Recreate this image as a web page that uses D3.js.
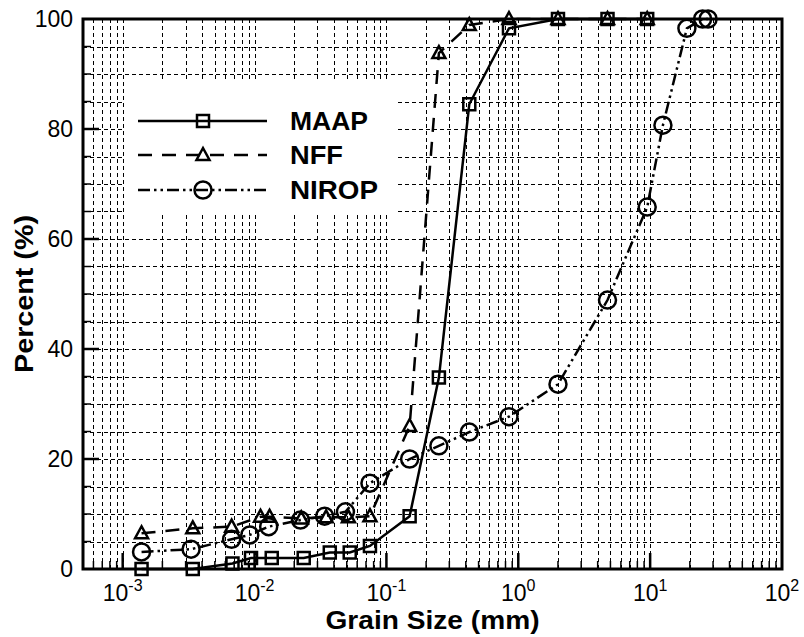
<!DOCTYPE html>
<html>
<head>
<meta charset="utf-8">
<script src="https://cdn.jsdelivr.net/npm/d3@7"></script>
<style>
  body { margin: 0; background: #fff; }
  text { font-family: "Liberation Sans", Arial, sans-serif; fill: #000; }
</style>
</head>
<body>
<div id="chart"></div>
<script>
// grain size distribution (size in mm, percent passing)
var maapSize = [0.00139, 0.0034, 0.0068, 0.0094, 0.0135, 0.0236, 0.0372, 0.0527, 0.075, 0.15, 0.25, 0.425, 0.85, 2.0, 4.75, 9.5];
var maapPct  = [0, 0, 1, 2, 2, 2, 3, 3, 4.2, 9.6, 34.8, 84.5, 98.3, 100, 100, 100];

var nffSize = [0.00139, 0.0034, 0.0067, 0.0111, 0.0130, 0.0226, 0.0349, 0.0515, 0.075, 0.15, 0.25, 0.425, 0.85, 2.0, 4.75, 9.5];
var nffPct  = [6.5, 7.4, 7.7, 9.5, 9.5, 9.2, 9.4, 9.4, 9.6, 26, 93.8, 98.9, 100, 100, 100, 100];

var niropSize = [0.00139, 0.0033, 0.0067, 0.0092, 0.0128, 0.0223, 0.034, 0.0489, 0.075, 0.15, 0.25, 0.425, 0.85, 2.0, 4.75, 9.5, 12.5, 19, 25, 27.5];
var niropPct  = [3.1, 3.6, 5.4, 6.2, 7.7, 8.9, 9.6, 10.4, 15.6, 20.0, 22.4, 24.9, 27.7, 33.6, 48.9, 65.8, 80.7, 98.3, 100, 100];

var seriesNames = ["MAAP", "NFF", "NIROP"];
var xTickExps = [-3, -2, -1, 0, 1, 2];
var yTicks = [0, 20, 40, 60, 80, 100];

var W = 804, H = 637;
var margin = {top: 19, right: 22, bottom: 68, left: 83};

var svg = d3.select("#chart").append("svg")
  .attr("width", W)
  .attr("height", H);

var x = d3.scaleLog().domain([5e-4, 100]).range([margin.left, W - margin.right]);
var y = d3.scaleLinear().domain([0, 100]).range([H - margin.bottom, margin.top]);

var x0 = x.range()[0], x1 = x.range()[1];
var y0 = y.range()[0], y1 = y.range()[1];

// grid (dashed, every minor log tick and every 5 percent)
var minorX = [];
for (var e = -4; e <= 1; e++) {
  for (var m = 1; m <= 9; m++) {
    var v = m * Math.pow(10, e);
    if (v > 5.0001e-4 && v < 99.99) minorX.push(v);
  }
}
var gridY = d3.range(5, 100, 5);

var grid = svg.append("g")
  .attr("stroke", "#000")
  .attr("stroke-width", 1)
  .attr("stroke-dasharray", "4,3");

grid.selectAll(".gx").data(minorX).enter().append("line")
  .attr("x1", function(d) { return Math.round(x(d)) + 0.5; })
  .attr("x2", function(d) { return Math.round(x(d)) + 0.5; })
  .attr("y1", y0).attr("y2", y1);

grid.selectAll(".gy").data(gridY).enter().append("line")
  .attr("x1", x0).attr("x2", x1)
  .attr("y1", function(d) { return Math.round(y(d)) + 0.5; })
  .attr("y2", function(d) { return Math.round(y(d)) + 0.5; });

// legend background hides the grid
svg.append("rect")
  .attr("x", 125).attr("y", 82)
  .attr("width", 271).attr("height", 132)
  .attr("fill", "#fff");

// ticks (inside)
function isDecade(d) { return Math.abs(Math.log10(d) - Math.round(Math.log10(d))) < 1e-6; }

var ticks = svg.append("g").attr("stroke", "#000");
ticks.selectAll(".mx").data(minorX).enter().append("line")
  .attr("x1", function(d) { return x(d); })
  .attr("x2", function(d) { return x(d); })
  .attr("y1", y0)
  .attr("y2", function(d) { return y0 - (isDecade(d) ? 16 : 8); })
  .attr("stroke-width", function(d) { return isDecade(d) ? 2.5 : 1.5; });

ticks.selectAll(".my").data(gridY).enter().append("line")
  .attr("x1", x0).attr("x2", function(d) { return x0 + (d % 20 === 0 ? 16 : 8); })
  .attr("y1", function(d) { return y(d); })
  .attr("y2", function(d) { return y(d); })
  .attr("stroke-width", function(d) { return d % 20 === 0 ? 2.5 : 1.5; });

// frame
svg.append("rect")
  .attr("x", x0).attr("y", y1)
  .attr("width", x1 - x0).attr("height", y0 - y1)
  .attr("fill", "none")
  .attr("stroke", "#000")
  .attr("stroke-width", 3);

// tick labels
svg.append("g").selectAll("text").data(yTicks).enter().append("text")
  .attr("x", x0 - 10)
  .attr("y", function(d) { return y(d); })
  .attr("dy", "0.36em")
  .attr("text-anchor", "end")
  .style("font-size", "23px")
  .text(function(d) { return d; });

var xl = svg.append("g").selectAll("text").data(xTickExps).enter().append("text")
  .attr("x", function(d) { return x(Math.pow(10, d)); })
  .attr("y", 601)
  .attr("text-anchor", "middle")
  .style("font-size", "23px");
xl.append("tspan").text("10");
xl.append("tspan")
  .attr("dy", -10)
  .style("font-size", "16px")
  .text(function(d) { return d; });

// axis titles
svg.append("text")
  .attr("x", (x0 + x1) / 2)
  .attr("y", 629)
  .attr("text-anchor", "middle")
  .attr("textLength", 214)
  .attr("lengthAdjust", "spacingAndGlyphs")
  .style("font-size", "25px")
  .style("font-weight", "bold")
  .text("Grain Size (mm)");

svg.append("text")
  .attr("transform", "translate(33," + ((y0 + y1) / 2) + ") rotate(-90)")
  .attr("text-anchor", "middle")
  .attr("textLength", 158)
  .attr("lengthAdjust", "spacingAndGlyphs")
  .style("font-size", "25px")
  .style("font-weight", "bold")
  .text("Percent (%)");

// markers
function markerPath(type) {
  if (type === "square") return "M-6,-6H6V6H-6Z";
  if (type === "triangle") return "M0,-7L6.5,5L-6.5,5Z";
  return d3.arc()({innerRadius: 0, outerRadius: 8.5, startAngle: 0, endAngle: 2 * Math.PI});
}

var series = [
  {name: seriesNames[0], size: maapSize, pct: maapPct, dash: null, marker: "square"},
  {name: seriesNames[1], size: nffSize, pct: nffPct, dash: "14,10", marker: "triangle"},
  {name: seriesNames[2], size: niropSize, pct: niropPct, dash: "12,4,2.5,4,2.5,4", marker: "circle"}
];

var line = d3.line()
  .x(function(d) { return x(d[0]); })
  .y(function(d) { return y(d[1]); });

series.forEach(function(s) {
  var pts = s.size.map(function(v, i) { return [v, s.pct[i]]; });
  svg.append("path")
    .datum(pts)
    .attr("d", line)
    .attr("fill", "none")
    .attr("stroke", "#000")
    .attr("stroke-width", 2.5)
    .attr("stroke-dasharray", s.dash);

  svg.append("g").selectAll("path").data(pts).enter().append("path")
    .attr("transform", function(d) { return "translate(" + x(d[0]) + "," + y(d[1]) + ")"; })
    .attr("d", markerPath(s.marker))
    .attr("fill", "none")
    .attr("stroke", "#000")
    .attr("stroke-width", 2.5);
});

// legend
var legendRows = [121, 155, 190];
var textLens = [78, 53, 88];
series.forEach(function(s, i) {
  var ly = legendRows[i];
  svg.append("line")
    .attr("x1", 138).attr("x2", 267)
    .attr("y1", ly).attr("y2", ly)
    .attr("stroke", "#000")
    .attr("stroke-width", 2.5)
    .attr("stroke-dasharray", s.dash);
  svg.append("path")
    .attr("transform", "translate(203," + ly + ")")
    .attr("d", markerPath(s.marker))
    .attr("fill", "none")
    .attr("stroke", "#000")
    .attr("stroke-width", 2.5);
  svg.append("text")
    .attr("x", 290)
    .attr("y", ly + 9)
    .attr("textLength", textLens[i])
    .attr("lengthAdjust", "spacingAndGlyphs")
    .style("font-size", "25px")
    .style("font-weight", "bold")
    .text(s.name);
});
</script>
</body>
</html>
